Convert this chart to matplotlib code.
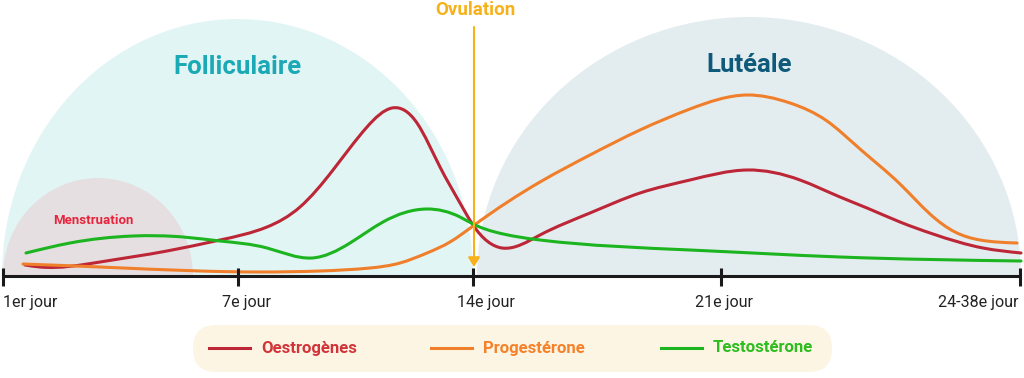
import numpy as np
import matplotlib
matplotlib.use('Agg')
import matplotlib.pyplot as plt
from matplotlib.path import Path
from matplotlib.patches import PathPatch, Ellipse, Rectangle, FancyBboxPatch

plt.rcParams['font.family'] = ['Roboto', 'DejaVu Sans']

# Ligne du cycle (x en unites de la frise, y = niveau au-dessus de l'axe)
tick_x = [3, 238, 473, 721, 1020]
tick_labels = ['1er jour', '7e jour', '14e jour', '21e jour', '24-38e jour']
label_x = [3, 247, 486, 724, 1018]

oestro_x = [25, 40, 100, 167, 220, 267, 300, 333, 367, 392, 417, 440, 460, 473,
            502, 540, 590, 640, 690, 747, 800, 840, 867, 900, 933, 983, 1021]
oestro_y = [11, 9, 14, 25, 36, 49, 69, 106, 149, 168, 153, 109, 73, 51,
            28, 41, 63, 83, 96, 106, 96, 79, 68, 54, 42, 28, 23]

proges_x = [23, 100, 200, 260, 320, 370, 400, 427, 450, 473, 540, 590, 640, 690,
            747, 790, 827, 860, 900, 930, 955, 980, 1017]
proges_y = [12, 9, 5, 4, 5, 8, 13, 23, 34, 50, 94, 121, 146, 167,
            181, 173, 155, 127, 92, 62, 44, 36, 33]

testo_x = [26, 70, 133, 183, 220, 267, 312, 350, 383, 427, 460, 473, 495,
           540, 690, 840, 1021]
testo_y = [23, 33, 40, 39, 35, 28, 18, 33, 54, 67, 59, 52, 44,
           36, 26, 19, 15]

series = [('Oestrogènes', oestro_x, oestro_y),
          ('Progestérone', proges_x, proges_y),
          ('Testostérone', testo_x, testo_y)]

line_colors = ['#bd2636', '#f07f2b', '#1cb41f']
text_colors = ['#d1343a', '#f5822b', '#2dbd1f']


# spline cubique naturelle -> segments de bezier
def smooth_path(xs, ys):
    x = np.asarray(xs, float)
    y = np.asarray(ys, float)
    n = len(x)
    h = np.diff(x)
    A = np.zeros((n, n))
    b = np.zeros(n)
    A[0, 0] = A[-1, -1] = 1
    for i in range(1, n - 1):
        A[i, i - 1] = h[i - 1]
        A[i, i] = 2 * (h[i - 1] + h[i])
        A[i, i + 1] = h[i]
        b[i] = 6 * ((y[i + 1] - y[i]) / h[i] - (y[i] - y[i - 1]) / h[i - 1])
    M = np.linalg.solve(A, b)
    s = np.zeros(n)
    for i in range(n - 1):
        s[i] = (y[i + 1] - y[i]) / h[i] - h[i] * (2 * M[i] + M[i + 1]) / 6
    s[-1] = (y[-1] - y[-2]) / h[-1] + h[-1] * (M[-2] + 2 * M[-1]) / 6
    verts = [(x[0], y[0])]
    codes = [Path.MOVETO]
    for i in range(n - 1):
        verts += [(x[i] + h[i] / 3, y[i] + s[i] * h[i] / 3),
                  (x[i + 1] - h[i] / 3, y[i + 1] - s[i + 1] * h[i] / 3),
                  (x[i + 1], y[i + 1])]
        codes += [Path.CURVE4] * 3
    return Path(verts, codes)


fig = plt.figure(figsize=(10.24, 3.78), dpi=100)
ax = fig.add_axes([0, 0, 1, 1])
ax.set_xlim(0, 1024)
ax.set_ylim(-102, 276)
ax.axis('off')

clip = Rectangle((0, 0), 1024, 300, transform=ax.transData)

# Phases
for (cx, w, h, col) in [(237.5, 471, 514, '#e2f5f5'),
                        (749, 544, 518, '#e3edf0'),
                        (98, 190, 196, '#e6dfe2')]:
    e = Ellipse((cx, 0), w, h, facecolor=col, edgecolor='none', zorder=1)
    ax.add_patch(e)
    e.set_clip_path(clip)

ax.text(237, 209, 'Folliculaire', ha='center', va='center', fontsize=18.5,
        fontweight='bold', color='#1ba9b6', zorder=2)
ax.text(749, 211, 'Lutéale', ha='center', va='center', fontsize=18.5,
        fontweight='bold', color='#0f5a7a', zorder=2)
ax.text(93, 56, 'Menstruation', ha='center', va='center', fontsize=9.5,
        fontweight='bold', color='#e6243c', zorder=2)

# Hormones
for (name, xs, ys), c in zip(series, line_colors):
    ax.add_patch(PathPatch(smooth_path(xs, ys), facecolor='none', edgecolor=c,
                           lw=2.2, capstyle='round', zorder=3))

# Ovulation
ax.annotate('', xy=(474, 9), xytext=(474, 249),
            arrowprops=dict(arrowstyle='-|>,head_length=0.45,head_width=0.28',
                            color='#f7b21b', lw=1.5, mutation_scale=12.5,
                            shrinkA=0, shrinkB=0), zorder=4)
ax.text(475, 266, 'Ovulation', ha='center', va='center', fontsize=13.5,
        fontweight='bold', color='#f7b21b')

# Axe
ax.plot([2, 1021], [0, 0], color='#1a1a1a', lw=2.2, zorder=5, solid_capstyle='butt')
ax.vlines(tick_x, -10, 8, color='#1a1a1a', lw=2.2, zorder=5)
for i, (lx, lab) in enumerate(zip(label_x, tick_labels)):
    ha = 'left' if i == 0 else ('right' if i == len(tick_labels) - 1 else 'center')
    ax.text(lx, -27, lab, ha=ha, va='center', fontsize=11.5, color='#222222')

# Legende
ax.add_patch(FancyBboxPatch((193, -96), 639, 47,
                            boxstyle='round,pad=0,rounding_size=23',
                            facecolor='#fdf5e3', edgecolor='none', zorder=1))
leg_line_x = [209, 431, 661]
for (name, xs, ys), c, tc, lx in zip(series, line_colors, text_colors, leg_line_x):
    ax.plot([lx, lx + 41], [-72, -72], color=c, lw=2.2)
    ax.text(lx + 52, -72, name, ha='left', va='center', fontsize=12,
            fontweight='bold', color=tc)

fig.savefig('out.png', dpi=100)
